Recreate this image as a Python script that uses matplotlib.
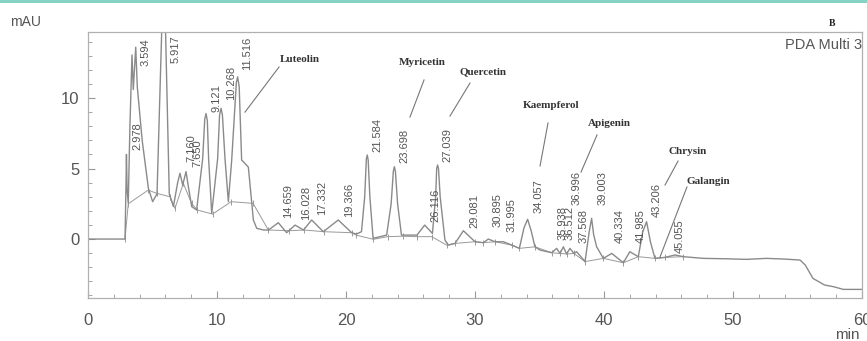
import numpy as np
import matplotlib
matplotlib.use('Agg')
import matplotlib.pyplot as plt
from matplotlib.patches import Rectangle

plt.rcParams['font.family'] = ['Liberation Sans', 'DejaVu Sans']

# chromatogram trace (min, mAU)
time = [0, 2.87, 2.95, 2.98, 3.03, 3.12, 3.25, 3.41, 3.51, 3.70, 3.82, 4.2, 4.68, 5.01, 5.35,
        5.88, 6.3, 6.62, 6.95, 7.13, 7.34, 7.6, 7.8, 8.04, 8.42, 8.89, 9.05, 9.15, 9.25, 9.35,
        9.59, 10.05, 10.2, 10.31, 10.42, 10.62, 10.88, 11.14, 11.5, 11.6, 11.72, 11.91, 12.17,
        12.43, 12.82, 13.08, 13.6, 14.0, 14.75, 15.4, 16.05, 16.7, 17.34, 18.24, 19.4, 20.44,
        20.8, 21.2, 21.45, 21.58, 21.65, 21.72, 21.85, 22.1, 23.15, 23.5, 23.67, 23.75, 23.83,
        24.0, 24.3, 25.5, 26.1, 26.7, 26.95, 27.03, 27.1, 27.17, 27.3, 27.67, 27.93, 28.45,
        29.1, 30.0, 30.65, 31.03, 31.55, 32.2, 32.85, 33.44, 33.8, 34.08, 34.35, 34.65, 35.04,
        35.94, 36.33, 36.59, 36.85, 37.1, 37.36, 37.67, 37.88, 38.53, 38.85, 39.04, 39.2,
        39.43, 39.95, 40.6, 41.5, 42.0, 42.66, 43.0, 43.3, 43.6, 43.95, 44.73, 45.5, 46.15,
        46.8, 47.7, 49.5, 51.06, 52.6, 54.0, 55.2, 55.6, 56.2, 57.1, 57.8, 58.55, 60]
signal = [0, 0, 4.0, 6.0, 3.5, 2.55, 8.0, 13.05, 10.6, 13.6, 10.8, 7.0, 3.6, 2.65, 3.2,
          20.0, 3.2, 2.3, 4.0, 4.66, 3.83, 4.78, 3.6, 2.3, 2.06, 5.7, 8.5, 8.9, 8.4, 5.7,
          1.82, 5.7, 8.8, 9.27, 8.8, 5.7, 2.65, 5.6, 11.1, 11.5, 10.8, 5.6, 5.36,
          5.1, 1.35, 0.76, 0.64, 0.64, 1.16, 0.45, 0.99, 0.64, 1.35, 0.52, 1.35, 0.45,
          0.35, 0.52, 3.0, 5.7, 5.96, 5.6, 3.0, 0.05, 0.28, 2.5, 4.8, 5.13, 4.8,
          2.5, 0.28, 0.28, 0.99, 0.4, 3.0, 5.0, 5.25, 5.0, 3.0, -0.07, -0.43, -0.31,
          0.59, -0.19, -0.26, 0.0, -0.19, -0.19, -0.43, -0.66, 0.8, 1.4, 0.6, -0.55, -0.78,
          -0.97, -0.66, -1.02, -0.55, -1.06, -0.66, -1.02, -0.9, -1.6, 0.5, 1.47, 0.3,
          -0.55, -1.37, -1.02, -1.68, -0.9, -1.25, 0.5, 1.23, -0.2, -1.37, -1.3, -1.13, -1.25,
          -1.3, -1.37, -1.4, -1.44, -1.37, -1.42, -1.49, -1.84, -2.79, -3.26, -3.38, -3.57, -3.57]

# integration baseline drawn by the software
base_t = [2.87, 3.12, 4.67, 5.32, 6.36, 6.74, 7.39, 8.03, 8.47, 9.66, 11.1, 12.8,
          13.98, 15.6, 16.77, 18.3, 20.44, 20.78, 22.12, 23.23, 24.4, 25.48, 26.64, 27.8,
          28.45, 30.0, 30.65, 31.55, 32.85, 33.44, 34.65, 35.94, 36.59, 37.1, 37.67, 38.53,
          39.95, 41.5, 42.66, 43.95, 44.73, 46.15]
base_y = [0, 2.5, 3.47, 3.24, 3.0, 2.17, 3.95, 2.53, 2.06, 1.77, 2.65, 2.53,
          0.64, 0.59, 0.64, 0.52, 0.45, 0.28, -0.02, 0.17, 0.2, 0.17, 0.17, -0.43,
          -0.31, -0.19, -0.26, -0.19, -0.43, -0.66, -0.55, -0.97, -1.02, -1.06, -1.02, -1.6,
          -1.37, -1.68, -1.25, -1.37, -1.3, -1.25]

# retention time labels
rt_labels = ['2.978', '3.594', '5.917', '7.160', '7.650', '9.121', '10.268', '11.516',
             '14.659', '16.028', '17.332', '19.366', '21.584', '23.698', '26.116', '27.039',
             '29.081', '30.895', '31.995', '34.057', '35.938', '36.512', '36.996', '37.568',
             '39.003', '40.334', '41.985', '43.206', '45.055']
rt_label_y = [6.3, 12.3, 12.5, 5.45, 5.1, 9.0, 9.86, 12.0,
              1.5, 1.35, 1.7, 1.56, 6.17, 5.4, 1.2, 5.46,
              0.78, 0.85, 0.5, 1.84, -0.07, -0.07, 2.4, -0.28,
              2.4, -0.28, -0.28, 1.56, -1.0]

# compound names: text position, leader line start and end
compounds = ['Luteolin', 'Myricetin', 'Quercetin', 'Kaempferol', 'Apigenin', 'Chrysin', 'Galangin']
comp_xy = [(16.43, 12.7), (25.9, 12.55), (30.62, 11.84), (35.89, 9.5), (40.39, 8.16), (46.51, 6.24), (48.06, 4.11)]
lead_from = [(14.81, 12.2), (26.05, 11.28), (29.61, 11.06), (35.66, 8.23), (39.46, 7.38), (45.74, 5.53), (46.43, 3.69)]
lead_to = [(12.17, 9.0), (24.96, 8.65), (28.06, 8.72), (35.04, 5.18), (38.22, 4.75), (44.73, 3.83), (44.34, -1.28)]

W, H = 867, 341
fig = plt.figure(figsize=(W / 100, H / 100), dpi=100)
fig.add_artist(Rectangle((0, 1 - 2.5 / H), 1, 2.5 / H, transform=fig.transFigure,
                         color='#86d3c6', lw=0))
ax = fig.add_axes([88 / W, 43 / H, 774 / W, 266 / H])

grey = '#8a8a8a'
ax.plot(base_t, base_y, color='#9a9a9a', lw=0.7, marker='|', ms=5, mew=0.7)
ax.plot(time, signal, color=grey, lw=1.0)

for lab, y, in zip(rt_labels, rt_label_y):
    ax.annotate(lab, (float(lab), y), xytext=(11, 0), textcoords='offset pixels',
                rotation=90, ha='center', va='bottom', fontsize=8, color='#555555')

for name, (tx, ty), p0, p1 in zip(compounds, comp_xy, lead_from, lead_to):
    ax.text(tx, ty, name, ha='center', va='center', fontsize=8, color='#333333',
            family=['Liberation Serif', 'DejaVu Serif'], weight='semibold')
    ax.plot([p0[0], p1[0]], [p0[1], p1[1]], color='#777777', lw=0.8)

ax.set_xlim(0, 60)
ax.set_ylim(-4.18, 14.68)
ax.set_xticks(np.arange(0, 61, 10))
ax.set_xticks(np.arange(0, 61, 2), minor=True)
ax.set_yticks([0, 5, 10])
ax.set_yticks(np.arange(-4, 15, 1), minor=True)
ax.tick_params(which='both', direction='in', color='#999999', labelcolor='#555555', labelsize=12)
ax.tick_params(which='major', length=5)
ax.tick_params(which='minor', length=3)
ax.tick_params(axis='x', pad=11)
ax.tick_params(axis='y', pad=6)
for s in ax.spines.values():
    s.set_color('#b0b0b0')
    s.set_linewidth(0.9)

ax.text(1.0, 0.951, 'PDA Multi 3', transform=ax.transAxes, ha='right', va='center',
        fontsize=10.5, color='#555555')
fig.text(10 / W, 1 - 22 / H, 'mAU', ha='left', va='center', fontsize=10, color='#555555')
fig.text(847 / W, 1 - 335 / H, 'min', ha='center', va='center', fontsize=11, color='#555555')
fig.text(832 / W, 1 - 24 / H, 'B', ha='center', va='center', fontsize=7, weight='bold',
         family=['Liberation Serif', 'DejaVu Serif'], color='#222222')

fig.savefig('out.png', dpi=100)
